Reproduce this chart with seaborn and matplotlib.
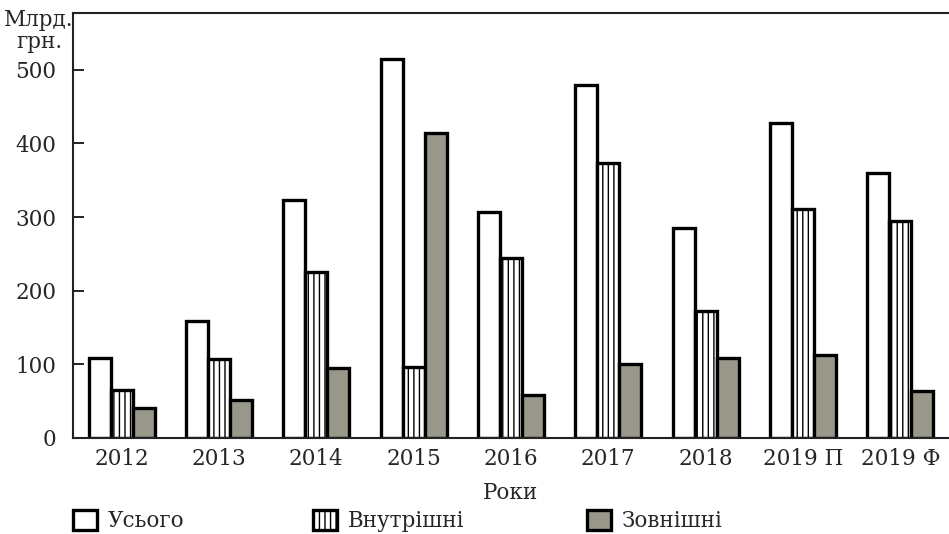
import matplotlib
matplotlib.use("Agg")
import matplotlib.pyplot as plt
from matplotlib.patches import Patch
import seaborn as sns
import pandas as pd

years = ["2012", "2013", "2014", "2015", "2016", "2017", "2018", "2019 П", "2019 Ф"]
total = [108, 159, 323, 514, 307, 479, 285, 428, 360]
domestic = [65, 107, 225, 97, 245, 373, 172, 311, 295]
external = [41, 51, 95, 414, 59, 100, 108, 113, 64]
series_names = ["Усього", "Внутрішні", "Зовнішні"]
y_ticks = [0, 100, 200, 300, 400, 500]

fills = ["white", "white", "#98978a"]
hatches = [None, "|||", None]
FS = 15.5

sns.set_theme(style="white")
plt.rcParams["font.family"] = ["DejaVu Serif", "DejaVu Sans"]
plt.rcParams["hatch.linewidth"] = 1.0
plt.rcParams["hatch.color"] = "black"

df = pd.DataFrame({
    "year": years * 3,
    "value": total + domestic + external,
    "series": [s for s in series_names for _ in years],
})

fig = plt.figure(figsize=(9.49, 5.34), dpi=100)
ax = fig.add_axes([73 / 949, 1 - 438 / 534, 1 - 73 / 949, (438 - 13) / 534])

sns.barplot(data=df, x="year", y="value", hue="series", order=years,
            hue_order=series_names, width=0.68, palette=fills,
            edgecolor="black", linewidth=2.4, saturation=1, legend=False, ax=ax)

for container, fill, hatch in zip(ax.containers, fills, hatches):
    for bar in container:
        bar.set_facecolor(fill)
        bar.set_edgecolor("black")
        if hatch:
            bar.set_hatch(hatch)

ax.set_xlim(-0.5, len(years) - 0.5)
ax.set_ylim(0, 577)
ax.set_yticks(y_ticks)
ax.set_yticklabels([str(v) for v in y_ticks], fontsize=FS)
ax.set_xticks(range(len(years)))
ax.set_xticklabels(years, fontsize=FS)
ax.set_xticks([i + 0.5 for i in range(len(years) - 1)], minor=True)
ax.tick_params(axis="x", which="major", length=0, pad=7)
ax.tick_params(axis="x", which="minor", direction="in", length=6, width=1.2, color="black")
ax.tick_params(axis="y", which="major", direction="in", length=8, width=1.2,
               color="black", pad=12, left=True)
ax.set_xlabel("Роки", fontsize=FS, labelpad=9)
ax.set_ylabel("")

for side in ["left", "bottom", "top"]:
    ax.spines[side].set_visible(True)
    ax.spines[side].set_color("#222222")
    ax.spines[side].set_linewidth(1.5)
ax.spines["right"].set_visible(False)

fig.text(39 / 949, 1 - 9 / 534, "Млрд.\nгрн.", ha="center", va="top",
         fontsize=FS, linespacing=1.0)

# legend entries laid out in a row below the axes
legend_x = [73, 313, 587]
for name, fill, hatch, x in zip(series_names, fills, hatches, legend_x):
    handle = Patch(facecolor=fill, edgecolor="black", linewidth=2.4, hatch=hatch)
    fig.legend([handle], [name], loc="center left",
               bbox_to_anchor=(x / 949, 1 - 521 / 534), frameon=False,
               fontsize=FS, handlelength=1.1, handleheight=1.1,
               handletextpad=0.5, borderpad=0, borderaxespad=0)

fig.savefig("out.png", dpi=100)
